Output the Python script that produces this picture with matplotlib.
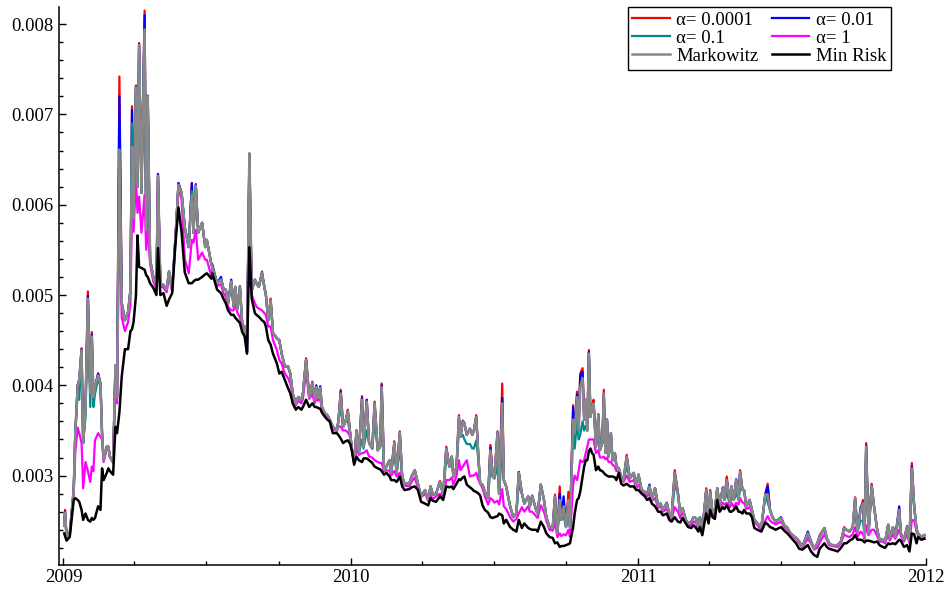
import numpy as np
import pandas as pd
import matplotlib
matplotlib.use('Agg')
import matplotlib.pyplot as plt
import matplotlib.dates as mdates
from matplotlib.ticker import MultipleLocator, FormatStrFormatter

plt.rcParams['font.family'] = ['Liberation Serif', 'DejaVu Serif']

# ----- data -----
# day = days after 2009-01-01, values in units of 1e-4
day = [1, 2, 4, 8, 13, 15, 18, 20, 23, 25,
       28, 31, 34, 36, 38, 40, 44, 47, 49, 51,
       55, 57, 59, 63, 66, 68, 71, 74, 78, 82,
       85, 87, 89, 92, 94, 96, 99, 103, 105, 107,
       110, 114, 118, 120, 123, 127, 131, 134, 138, 142,
       146, 150, 154, 159, 163, 165, 168, 171, 176, 180,
       182, 188, 189, 195, 200, 203, 206, 209, 213, 216,
       218, 221, 224, 227, 230, 233, 236, 239, 243, 245,
       248, 252, 255, 257, 260, 263, 266, 271, 274, 277,
       281, 285, 288, 291, 295, 298, 302, 304, 308, 312,
       316, 319, 321, 323, 326, 328, 332, 335, 338, 342,
       347, 349, 352, 355, 358, 361, 364, 366, 369, 372,
       375, 379, 381, 385, 388, 392, 395, 399, 402, 404,
       407, 410, 414, 416, 420, 423, 427, 430, 433, 439,
       442, 446, 450, 454, 459, 463, 466, 469, 473, 478,
       482, 486, 490, 493, 495, 499, 502, 504, 507, 509,
       512, 516, 519, 521, 524, 527, 529, 532, 535, 539,
       542, 545, 547, 551, 553, 557, 559, 562, 567, 571,
       575, 578, 582, 585, 590, 592, 595, 600, 602, 606,
       610, 613, 617, 621, 624, 627, 630, 632, 635, 638,
       641, 643, 647, 649, 652, 654, 656, 659, 661, 663,
       665, 667, 669, 671, 673, 676, 679, 681, 684, 686,
       688, 690, 692, 695, 697, 700, 702, 705, 708, 711,
       715, 719, 724, 727, 730, 734, 738, 741, 744, 747,
       751, 755, 758, 761, 766, 769, 772, 776, 780, 783,
       786, 790, 793, 797, 800, 803, 806, 808, 811, 814,
       816, 819, 821, 824, 827, 830, 833, 837, 839, 842,
       846, 848, 851, 854, 857, 859, 862, 864, 867, 871,
       874, 877, 881, 886, 891, 894, 897, 900, 904, 911,
       915, 919, 923, 930, 934, 938, 945, 949, 953, 957,
       960, 966, 969, 972, 976, 983, 987, 991, 994, 998,
       1002, 1005, 1008, 1012, 1015, 1017, 1019, 1022, 1026, 1029,
       1033, 1036, 1040, 1043, 1047, 1049, 1053, 1056, 1061, 1063,
       1067, 1071, 1074, 1077, 1080, 1083, 1085, 1089, 1093]

markowitz = [24.5, 25.9, 23.1, 23.6, 28.4, 34.7, 39.8, 40.6, 43.9, 33.6,
             37.6, 49.6, 39.1, 45.4, 38.7, 39.8, 41.1, 40.2, 34.7, 31.7,
             33.2, 33.2, 32.1, 31.5, 42.2, 38.7, 66.1, 49.1, 47.2, 48.1,
             50.5, 66.4, 58.5, 73.0, 62.0, 77.7, 61.3, 79.4, 57.2, 72.0,
             53.9, 52.0, 50.9, 63.2, 51.3, 51.1, 50.6, 52.6, 50.6, 56.1,
             62.2, 61.3, 57.5, 55.3, 61.1, 56.9, 62.1, 56.9, 58.0, 55.3,
             56.1, 53.3, 53.1, 51.3, 51.7, 50.7, 50.6, 49.1, 51.5, 48.7,
             50.9, 48.5, 50.9, 46.7, 46.5, 43.7, 65.6, 50.5, 51.7, 51.3,
             50.9, 52.4, 50.9, 50.0, 47.2, 49.4, 45.8, 45.2, 45.0, 43.5,
             42.1, 42.1, 41.3, 39.1, 38.0, 38.7, 38.4, 39.1, 42.8, 38.7,
             40.2, 38.4, 39.8, 38.6, 39.7, 37.6, 36.9, 36.7, 36.2, 35.4,
             35.0, 36.0, 39.1, 35.4, 36.0, 37.1, 34.7, 33.0, 31.5, 35.0,
             32.5, 38.4, 33.2, 38.2, 33.6, 33.0, 38.0, 32.8, 33.2, 39.8,
             30.6, 31.0, 31.7, 30.3, 33.6, 30.3, 34.7, 29.9, 29.1, 29.1,
             29.9, 30.6, 29.1, 27.7, 28.4, 27.3, 28.8, 27.9, 28.0, 29.3,
             27.9, 33.0, 31.0, 32.1, 29.9, 31.0, 36.5, 34.3, 36.0, 35.8,
             34.5, 35.2, 34.5, 35.0, 36.5, 31.7, 29.1, 29.0, 28.2, 27.5,
             32.8, 29.9, 29.7, 34.7, 28.0, 38.0, 29.5, 28.8, 26.6, 25.4,
             25.8, 30.3, 28.0, 26.9, 27.7, 26.6, 27.7, 26.2, 25.8, 29.0,
             27.3, 25.4, 24.3, 24.2, 27.7, 23.6, 27.3, 25.1, 26.6, 24.3,
             27.3, 24.3, 36.2, 34.7, 38.7, 35.0, 39.8, 40.8, 36.2, 38.4,
             35.0, 43.5, 36.5, 37.5, 38.0, 33.2, 36.7, 32.8, 33.6, 39.1,
             32.5, 36.2, 32.1, 34.7, 31.7, 32.5, 31.0, 30.8, 29.9, 29.5,
             32.1, 29.7, 30.3, 28.8, 30.1, 28.4, 28.2, 28.0, 28.8, 27.3,
             28.6, 26.6, 26.9, 26.2, 26.9, 25.8, 25.4, 30.3, 28.0, 25.8,
             26.4, 25.1, 24.7, 24.9, 25.4, 25.3, 24.3, 25.4, 23.8, 26.6,
             28.4, 25.1, 28.2, 25.8, 26.2, 28.6, 26.6, 28.6, 27.3, 29.5,
             26.9, 28.8, 27.3, 29.5, 27.3, 30.4, 28.4, 28.4, 26.6, 27.3,
             26.2, 25.1, 24.7, 24.3, 27.9, 27.9, 26.2, 25.4, 24.9, 25.3,
             24.5, 24.2, 23.6, 23.1, 22.7, 22.1, 23.6, 22.7, 21.9, 22.5,
             23.2, 24.2, 23.1, 22.5, 22.3, 22.3, 22.7, 24.2, 24.0, 23.8,
             24.3, 27.5, 23.8, 26.2, 26.9, 23.2, 33.2, 23.6, 28.8, 26.6,
             24.0, 22.9, 22.9, 22.7, 24.5, 23.1, 24.3, 23.2, 26.2, 23.6,
             22.9, 24.3, 22.7, 30.8, 26.6, 24.0, 23.6, 23.2, 23.4]

alpha_0001 = [24.5, 26.2, 23.1, 23.6, 28.4, 34.7, 40.0, 40.6, 44.1, 33.6,
              37.6, 50.4, 39.1, 45.9, 38.7, 39.8, 41.3, 40.2, 34.7, 31.7,
              33.2, 33.2, 32.1, 31.5, 42.2, 38.7, 74.2, 49.1, 47.2, 48.1,
              50.5, 70.9, 58.5, 73.2, 62.0, 77.9, 61.3, 81.5, 57.2, 72.1,
              53.9, 52.0, 50.9, 63.4, 51.3, 51.1, 50.6, 52.6, 50.6, 56.1,
              62.4, 61.3, 57.5, 55.3, 62.4, 56.9, 62.3, 56.9, 58.0, 55.3,
              56.1, 53.3, 53.1, 51.3, 51.7, 50.7, 50.6, 49.1, 51.5, 48.7,
              50.9, 48.5, 51.0, 46.7, 46.5, 43.7, 65.7, 50.5, 51.7, 51.3,
              50.9, 52.6, 50.9, 50.0, 47.2, 49.6, 45.8, 45.2, 45.0, 43.5,
              42.1, 42.1, 41.3, 39.1, 38.0, 38.7, 38.4, 39.1, 43.0, 38.7,
              40.4, 38.4, 39.8, 38.6, 39.7, 37.6, 36.9, 36.7, 36.2, 35.4,
              35.0, 36.0, 39.5, 35.4, 36.0, 37.3, 34.7, 33.0, 31.5, 35.0,
              32.5, 38.8, 33.2, 38.4, 33.6, 33.0, 38.2, 32.8, 33.2, 40.2,
              30.6, 31.0, 31.7, 30.3, 33.8, 30.3, 34.9, 29.9, 29.1, 29.1,
              29.9, 30.6, 29.1, 27.7, 28.4, 27.3, 28.8, 27.9, 28.0, 29.4,
              27.9, 33.2, 31.0, 32.1, 29.9, 31.0, 36.7, 34.3, 36.0, 35.8,
              34.5, 35.2, 34.5, 35.0, 36.7, 31.7, 29.1, 29.0, 28.2, 27.5,
              33.4, 29.9, 29.7, 34.9, 28.0, 40.2, 29.5, 28.8, 26.6, 25.4,
              25.8, 30.4, 28.0, 26.9, 27.7, 26.6, 27.7, 26.2, 25.8, 29.0,
              27.3, 25.4, 24.3, 24.2, 27.9, 23.6, 28.8, 25.1, 26.6, 24.3,
              28.2, 24.3, 37.8, 34.7, 39.3, 35.0, 41.3, 41.9, 36.2, 38.4,
              35.0, 43.9, 36.5, 37.7, 38.4, 33.2, 36.7, 32.8, 33.6, 39.5,
              32.5, 36.2, 32.1, 34.7, 31.7, 32.5, 31.0, 30.8, 29.9, 29.5,
              32.3, 29.7, 30.3, 28.8, 30.1, 28.4, 28.2, 28.0, 28.8, 27.3,
              28.6, 26.6, 26.9, 26.2, 26.9, 25.8, 25.4, 30.6, 28.2, 25.8,
              26.4, 25.1, 24.7, 24.9, 25.4, 25.3, 24.3, 25.4, 23.8, 26.6,
              28.6, 25.1, 28.4, 25.8, 26.2, 28.6, 26.6, 28.6, 27.3, 29.9,
              26.9, 28.8, 27.3, 29.5, 27.3, 30.6, 28.4, 28.4, 26.6, 27.3,
              26.2, 25.1, 24.7, 24.3, 28.0, 29.1, 26.2, 25.4, 24.9, 25.3,
              24.5, 24.2, 23.6, 23.1, 22.7, 22.1, 23.6, 22.7, 21.9, 22.5,
              23.4, 24.2, 23.1, 22.5, 22.3, 22.3, 22.7, 24.3, 24.0, 23.8,
              24.3, 27.6, 23.8, 26.2, 27.3, 23.2, 33.6, 23.6, 29.1, 26.6,
              24.0, 22.9, 22.9, 22.7, 24.6, 23.1, 24.3, 23.2, 26.2, 23.6,
              22.9, 24.3, 22.7, 31.4, 26.6, 24.0, 23.6, 23.2, 23.4]

alpha_001 = [24.5, 26.0, 23.1, 23.6, 28.4, 34.7, 40.0, 40.6, 44.0, 33.6,
             37.6, 49.9, 39.1, 45.6, 38.7, 39.8, 41.3, 40.2, 34.7, 31.7,
             33.2, 33.2, 32.1, 31.5, 42.2, 38.7, 72.0, 49.1, 47.2, 48.1,
             50.5, 70.5, 58.5, 73.1, 62.0, 77.8, 61.3, 81.0, 57.2, 72.0,
             53.9, 52.0, 50.9, 63.4, 51.3, 51.1, 50.6, 52.6, 50.6, 56.1,
             62.4, 61.3, 57.5, 55.3, 62.4, 56.9, 62.2, 56.9, 58.0, 55.3,
             56.1, 53.3, 53.4, 51.3, 52.0, 50.7, 50.6, 49.1, 51.7, 48.7,
             50.9, 48.5, 50.9, 46.7, 46.5, 43.7, 65.6, 50.5, 51.7, 51.3,
             50.9, 52.4, 50.9, 50.0, 47.2, 49.4, 45.8, 45.2, 45.0, 43.5,
             42.1, 42.1, 41.3, 39.1, 38.0, 38.7, 38.4, 39.1, 42.8, 38.7,
             40.2, 38.4, 40.0, 38.6, 39.9, 37.6, 36.9, 36.7, 36.2, 35.4,
             35.0, 36.0, 39.3, 35.4, 36.0, 37.1, 34.7, 33.0, 31.5, 35.0,
             32.5, 38.6, 33.2, 38.4, 33.6, 33.0, 38.0, 32.8, 33.2, 40.0,
             30.6, 31.0, 31.7, 30.3, 33.6, 30.3, 34.7, 29.9, 29.1, 29.1,
             29.9, 30.6, 29.1, 27.7, 28.4, 27.3, 28.8, 27.9, 28.0, 29.3,
             27.9, 33.0, 31.0, 32.1, 29.9, 31.0, 36.3, 34.3, 36.1, 35.8,
             34.5, 35.2, 34.5, 35.0, 36.5, 31.7, 29.1, 29.0, 28.2, 27.5,
             33.1, 29.9, 29.7, 34.7, 28.0, 38.6, 29.5, 28.8, 26.6, 25.4,
             25.8, 30.4, 28.0, 26.9, 27.7, 26.6, 27.8, 26.2, 25.8, 29.0,
             27.3, 25.4, 24.3, 24.2, 27.7, 23.6, 28.0, 25.1, 27.7, 24.3,
             27.3, 24.3, 37.6, 34.7, 39.0, 35.0, 41.0, 41.5, 36.2, 38.4,
             35.0, 43.7, 36.5, 37.5, 38.0, 33.2, 36.8, 32.8, 33.6, 39.1,
             32.5, 36.2, 32.1, 34.7, 31.7, 32.5, 31.0, 30.8, 29.9, 29.5,
             32.1, 29.7, 30.3, 28.8, 30.1, 28.4, 28.2, 28.0, 29.0, 27.3,
             28.6, 26.6, 26.9, 26.2, 27.0, 25.8, 25.4, 30.3, 28.0, 25.8,
             26.4, 25.1, 24.7, 24.9, 25.4, 25.3, 24.3, 25.4, 23.8, 26.6,
             28.4, 25.1, 28.2, 25.8, 26.2, 28.6, 26.6, 28.7, 27.3, 29.5,
             26.9, 28.8, 27.3, 29.6, 27.3, 30.4, 28.4, 28.4, 26.6, 27.3,
             26.2, 25.1, 24.7, 24.3, 27.9, 28.8, 26.2, 25.4, 24.9, 25.4,
             24.5, 24.2, 23.6, 23.1, 22.7, 22.1, 23.8, 22.7, 21.9, 22.5,
             23.2, 24.2, 23.1, 22.5, 22.3, 22.3, 22.7, 24.2, 24.0, 23.8,
             24.3, 27.5, 23.8, 26.5, 26.9, 23.2, 33.3, 23.6, 28.8, 26.6,
             24.0, 22.9, 22.9, 22.7, 24.5, 23.1, 24.3, 23.2, 26.6, 23.6,
             22.9, 24.4, 22.7, 31.0, 26.6, 24.0, 23.6, 23.2, 23.4]

alpha_01 = [24.5, 25.8, 23.1, 23.6, 28.4, 34.7, 39.1, 38.4, 43.5, 33.6,
            36.5, 48.5, 37.6, 44.0, 37.6, 39.0, 40.8, 39.8, 34.5, 31.7,
            33.2, 33.2, 32.1, 31.5, 42.2, 38.7, 66.1, 49.1, 47.2, 48.1,
            50.5, 69.0, 58.5, 73.0, 62.0, 77.7, 61.3, 79.4, 57.2, 72.0,
            53.9, 52.0, 50.9, 63.0, 51.3, 51.1, 50.6, 52.6, 50.6, 56.1,
            62.2, 61.3, 57.5, 55.3, 61.5, 56.9, 62.1, 56.9, 58.0, 55.3,
            56.1, 53.3, 53.1, 51.3, 51.7, 50.7, 50.6, 49.1, 51.5, 48.7,
            50.9, 48.5, 50.9, 46.7, 46.5, 43.7, 65.6, 50.5, 51.7, 51.3,
            50.9, 52.4, 50.9, 50.0, 47.2, 49.4, 45.8, 45.2, 45.0, 43.5,
            42.1, 42.1, 41.3, 39.1, 38.0, 38.7, 38.4, 39.1, 42.8, 38.7,
            40.2, 38.4, 39.8, 38.6, 39.7, 37.6, 36.9, 36.7, 36.2, 35.4,
            35.0, 36.0, 37.6, 35.4, 36.0, 36.0, 34.7, 33.0, 31.5, 33.0,
            32.5, 34.0, 33.0, 35.0, 33.6, 33.0, 36.0, 32.8, 33.2, 37.0,
            30.6, 31.0, 31.7, 30.3, 32.5, 30.3, 33.0, 29.9, 29.1, 29.1,
            29.9, 30.6, 29.1, 27.7, 28.4, 27.3, 28.8, 27.9, 28.0, 29.3,
            27.9, 32.0, 31.0, 32.1, 29.9, 31.0, 35.0, 34.3, 34.5, 34.0,
            33.5, 33.5, 33.0, 33.0, 33.9, 31.5, 29.1, 29.0, 28.2, 27.5,
            31.0, 29.9, 29.7, 31.0, 28.0, 33.0, 29.5, 28.8, 26.6, 25.4,
            25.8, 29.0, 28.0, 26.9, 27.7, 26.6, 27.7, 26.2, 25.8, 29.0,
            27.3, 25.4, 24.3, 24.2, 26.0, 23.6, 26.2, 25.1, 25.5, 24.3,
            26.0, 24.3, 35.0, 33.0, 36.0, 34.0, 34.5, 36.0, 35.0, 35.5,
            35.0, 43.5, 36.5, 37.5, 38.0, 33.2, 35.5, 32.8, 33.6, 37.5,
            32.5, 36.2, 32.1, 34.0, 31.7, 32.5, 31.0, 30.8, 29.9, 29.5,
            31.0, 29.7, 30.3, 28.8, 30.1, 28.4, 28.2, 28.0, 28.8, 27.3,
            28.6, 26.6, 26.9, 26.2, 26.9, 25.8, 25.4, 29.0, 28.0, 25.8,
            26.4, 25.1, 24.7, 24.9, 25.4, 25.3, 24.3, 25.4, 23.8, 26.6,
            28.4, 25.1, 28.2, 25.8, 26.2, 28.6, 26.6, 28.6, 27.3, 28.0,
            26.9, 28.0, 27.3, 28.0, 27.3, 28.5, 28.4, 28.4, 26.6, 27.3,
            26.2, 25.1, 24.7, 24.3, 27.9, 27.0, 26.2, 25.4, 24.9, 25.3,
            24.5, 24.2, 23.6, 23.1, 22.7, 22.1, 23.6, 22.7, 21.9, 22.5,
            23.2, 24.2, 23.1, 22.5, 22.3, 22.3, 22.7, 24.2, 24.0, 23.8,
            24.3, 26.5, 23.8, 25.0, 25.0, 23.2, 33.0, 23.6, 28.8, 26.6,
            24.0, 22.9, 22.9, 22.7, 24.5, 23.1, 24.3, 23.2, 25.5, 23.6,
            22.9, 24.3, 22.7, 29.0, 26.6, 24.0, 23.6, 23.2, 23.4]

alpha_1 = [24.5, 25.6, 23.1, 23.6, 28.0, 32.5, 35.3, 34.7, 33.6, 28.6,
           31.5, 30.5, 29.3, 31.0, 30.5, 33.9, 34.7, 34.3, 34.0, 31.5,
           33.0, 33.0, 32.0, 31.4, 41.0, 38.0, 60.0, 47.5, 46.0, 47.0,
           49.0, 59.4, 57.0, 62.7, 59.1, 60.9, 56.9, 61.1, 55.0, 57.6,
           53.5, 51.5, 50.7, 62.5, 51.0, 50.8, 50.3, 52.0, 50.4, 55.8,
           62.0, 60.5, 54.0, 52.4, 56.1, 55.8, 57.2, 53.9, 54.7, 53.9,
           53.9, 52.0, 52.8, 51.0, 51.2, 50.2, 49.8, 48.7, 48.3, 48.3,
           49.0, 48.0, 47.5, 46.5, 46.3, 43.6, 64.0, 50.0, 49.1, 48.7,
           48.5, 48.3, 48.0, 47.8, 46.5, 46.5, 45.0, 43.9, 42.8, 42.4,
           41.3, 40.8, 40.2, 38.8, 37.8, 38.3, 38.0, 38.5, 41.5, 38.5,
           39.0, 38.0, 38.7, 38.3, 38.5, 37.3, 36.7, 36.5, 36.1, 35.2,
           34.9, 35.5, 35.4, 35.0, 35.0, 34.8, 34.3, 32.9, 31.4, 33.2,
           32.3, 32.5, 32.5, 32.8, 32.1, 32.0, 31.7, 31.5, 31.4, 31.4,
           30.5, 30.6, 30.5, 30.0, 30.5, 29.9, 30.3, 29.6, 28.9, 28.8,
           29.3, 29.8, 28.6, 27.6, 28.0, 27.2, 27.8, 27.4, 27.7, 28.0,
           27.6, 29.5, 29.5, 29.8, 29.0, 30.0, 31.7, 30.6, 31.0, 31.3,
           31.7, 29.9, 30.0, 30.0, 30.3, 29.5, 29.1, 28.6, 27.7, 26.8,
           27.5, 27.3, 27.0, 27.2, 26.8, 28.5, 26.6, 26.3, 25.4, 24.9,
           25.2, 25.8, 26.5, 26.0, 26.6, 26.0, 26.0, 25.5, 25.3, 26.7,
           26.0, 25.0, 24.0, 23.9, 24.7, 23.2, 23.6, 23.3, 23.5, 23.4,
           24.0, 23.2, 29.0, 30.0, 29.5, 30.5, 31.7, 31.5, 31.7, 32.5,
           33.2, 34.0, 34.0, 34.0, 34.0, 32.5, 32.8, 32.0, 32.0, 32.1,
           31.8, 32.0, 31.5, 31.5, 31.2, 31.0, 30.5, 30.5, 29.7, 29.3,
           30.0, 29.3, 29.5, 28.6, 29.0, 28.2, 28.0, 27.7, 28.0, 27.2,
           27.5, 26.4, 26.6, 26.0, 26.3, 25.6, 25.2, 26.5, 26.0, 25.3,
           26.0, 24.9, 24.5, 24.5, 24.9, 24.8, 24.0, 24.8, 23.7, 25.0,
           26.0, 24.9, 26.5, 25.5, 25.8, 27.5, 26.3, 27.0, 26.8, 27.0,
           26.5, 27.0, 26.5, 27.0, 26.8, 27.5, 27.0, 27.0, 26.3, 26.5,
           25.9, 24.9, 24.5, 24.0, 25.0, 25.5, 25.0, 24.8, 24.6, 24.9,
           24.3, 24.0, 23.5, 23.0, 22.5, 22.0, 23.0, 22.5, 21.8, 22.0,
           22.6, 23.5, 22.9, 22.3, 22.2, 22.1, 22.5, 23.5, 23.3, 23.2,
           23.5, 24.3, 23.2, 23.8, 23.5, 23.0, 24.5, 23.4, 24.0, 24.0,
           23.3, 22.7, 22.7, 22.5, 23.5, 22.8, 23.5, 23.0, 24.0, 23.3,
           22.7, 23.5, 22.5, 25.1, 25.0, 23.8, 23.4, 23.1, 23.2]

min_risk = [23.6, 23.3, 22.8, 23.2, 27.3, 27.5, 27.3, 27.1, 26.2, 25.1,
            25.8, 25.1, 24.9, 25.3, 25.1, 25.3, 26.6, 26.2, 30.8, 29.5,
            30.3, 30.8, 30.5, 30.1, 35.4, 34.7, 37.0, 41.0, 44.0, 44.0,
            46.0, 46.2, 47.0, 49.9, 56.6, 53.1, 53.0, 52.8, 52.2, 52.0,
            51.3, 50.8, 50.0, 55.2, 50.0, 50.2, 48.8, 49.5, 50.2, 55.5,
            59.7, 56.9, 52.5, 51.3, 51.3, 51.5, 51.7, 51.7, 52.0, 52.3,
            52.4, 51.8, 52.4, 50.6, 50.2, 49.6, 49.1, 48.3, 47.8, 47.8,
            47.5, 47.2, 46.9, 45.9, 45.4, 43.5, 55.3, 49.6, 48.0, 47.8,
            47.6, 47.2, 47.0, 46.5, 45.0, 44.5, 43.5, 42.4, 41.3, 41.5,
            40.6, 39.7, 39.1, 38.0, 37.3, 37.6, 37.3, 37.6, 38.4, 37.6,
            38.0, 37.6, 37.6, 37.5, 37.4, 37.0, 36.5, 36.2, 36.0, 34.7,
            34.7, 34.5, 34.1, 33.6, 33.8, 33.9, 33.5, 32.8, 31.2, 32.1,
            31.7, 31.5, 31.9, 31.9, 31.7, 31.4, 31.0, 30.8, 30.7, 30.5,
            30.1, 30.3, 29.9, 29.5, 29.5, 29.3, 29.9, 28.8, 28.4, 28.5,
            28.7, 28.8, 28.4, 27.1, 26.9, 26.7, 27.5, 27.2, 27.1, 27.7,
            27.3, 28.8, 28.7, 28.8, 28.5, 29.1, 29.6, 29.5, 29.8, 29.9,
            29.0, 28.7, 28.5, 28.3, 28.2, 28.0, 27.8, 26.7, 26.2, 25.9,
            25.4, 25.3, 25.4, 25.5, 25.8, 25.6, 24.7, 25.1, 24.3, 24.0,
            23.8, 25.1, 24.2, 24.7, 24.2, 24.1, 24.0, 24.0, 23.8, 24.9,
            24.3, 23.6, 23.2, 23.1, 22.5, 22.6, 22.1, 22.2, 22.2, 22.3,
            22.4, 22.5, 24.3, 25.8, 27.3, 27.5, 28.2, 29.9, 31.0, 31.7,
            31.7, 32.7, 33.0, 32.5, 32.3, 30.6, 31.0, 30.6, 30.5, 30.3,
            30.1, 30.0, 29.9, 29.9, 29.9, 29.8, 29.5, 30.3, 29.1, 28.9,
            29.1, 28.8, 28.8, 28.4, 28.4, 28.0, 27.7, 27.3, 27.5, 26.9,
            26.6, 26.0, 26.0, 25.6, 25.8, 25.1, 24.9, 25.4, 24.9, 24.8,
            25.3, 24.7, 24.3, 24.2, 24.5, 24.2, 23.8, 24.3, 23.4, 24.9,
            25.8, 24.7, 26.2, 25.4, 25.2, 27.3, 26.0, 26.5, 26.3, 26.7,
            26.0, 26.0, 26.2, 26.6, 26.0, 26.0, 25.8, 26.2, 25.8, 25.8,
            25.4, 24.2, 24.0, 23.8, 24.8, 24.6, 24.3, 24.2, 24.0, 24.3,
            23.9, 23.6, 23.2, 22.5, 21.9, 21.8, 22.3, 21.6, 21.2, 21.0,
            21.9, 22.5, 22.1, 21.9, 21.8, 21.6, 22.0, 22.5, 22.5, 22.8,
            23.0, 23.4, 22.9, 22.9, 22.8, 22.6, 22.8, 22.8, 22.7, 22.6,
            22.7, 22.3, 22.1, 22.0, 22.5, 22.4, 22.5, 22.4, 22.9, 22.8,
            22.1, 22.3, 21.6, 23.6, 23.5, 22.5, 23.2, 22.9, 23.0]

labels = ['α= 0.0001', 'α= 0.01', 'α= 0.1', 'α= 1', 'Markowitz', 'Min Risk']
colors = ['#ff0000', '#0000ff', '#008b8b', '#ff00ff', '#888888', '#000000']
widths = [1.6, 1.6, 1.6, 1.6, 1.8, 1.8]

dates = pd.Timestamp('2009-01-01') + pd.to_timedelta(day, unit='D')
series = [alpha_0001, alpha_001, alpha_01, alpha_1, markowitz, min_risk]

fig = plt.figure(figsize=(9.52, 5.90), dpi=100)
ax = fig.add_axes([0.0617, 0.0424, 0.9110, 0.9458])

lines = {}
for lab, vals, c, lw in zip(labels, series, colors, widths):
    ln, = ax.plot(dates, np.array(vals) * 1e-4, color=c, lw=lw, label=lab)
    lines[lab] = ln

ax.set_xlim(pd.Timestamp('2008-12-26'), pd.Timestamp('2012-01-01'))
ax.set_ylim(0.00201, 0.00819)

ax.xaxis.set_major_locator(mdates.YearLocator())
ax.xaxis.set_minor_locator(mdates.MonthLocator(bymonth=[4, 7, 10]))
ax.xaxis.set_major_formatter(mdates.DateFormatter('%Y'))
ax.yaxis.set_major_locator(MultipleLocator(0.001))
ax.yaxis.set_minor_locator(MultipleLocator(0.0002))
ax.yaxis.set_major_formatter(FormatStrFormatter('%.3f'))

for s in ['top', 'right']:
    ax.spines[s].set_visible(False)
for s in ['left', 'bottom']:
    ax.spines[s].set_linewidth(1.1)
ax.tick_params(which='both', direction='in', width=1.0, labelsize=13.5)
ax.tick_params(which='major', length=5)
ax.tick_params(which='minor', length=3)
ax.tick_params(axis='x', pad=3)
ax.tick_params(axis='y', pad=4)

# legend is laid out row by row in the reference
order = ['α= 0.0001', 'α= 0.1', 'Markowitz', 'α= 0.01', 'α= 1', 'Min Risk']
leg = ax.legend([lines[k] for k in order], order, ncol=2, loc='upper right',
                bbox_to_anchor=(0.9597, 1.0), borderaxespad=0, fontsize=13.5,
                frameon=True, fancybox=False, edgecolor='black', framealpha=1,
                borderpad=0.25, labelspacing=0.05, handlelength=2.0,
                handletextpad=0.35, columnspacing=0.7)
leg.get_frame().set_linewidth(1.0)

fig.savefig('out.png', dpi=100)
